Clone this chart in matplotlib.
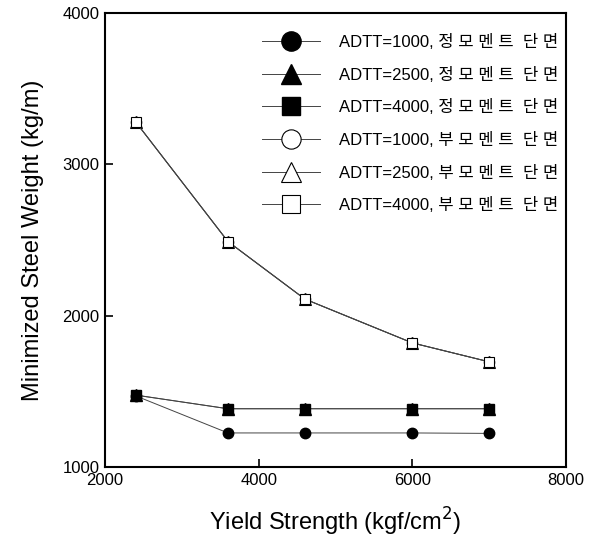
import matplotlib
matplotlib.use('Agg')
import matplotlib.pyplot as plt

plt.rcParams['font.family'] = ['Liberation Sans', 'Noto Sans CJK KR', 'DejaVu Sans']

# yield strength (kgf/cm^2)
yield_strength = [2400, 3600, 4600, 6000, 7000]

# positive moment sections
pos_1000 = [1470, 1225, 1225, 1225, 1222]
pos_2500 = [1475, 1385, 1385, 1385, 1385]
pos_4000 = [1475, 1385, 1385, 1385, 1385]

# negative moment sections
neg_1000 = [3280, 2490, 2110, 1820, 1695]
neg_2500 = [3280, 2490, 2110, 1820, 1695]
neg_4000 = [3280, 2490, 2110, 1820, 1695]

labels = ['ADTT=1000, 정 모 멘 트  단 면',
          'ADTT=2500, 정 모 멘 트  단 면',
          'ADTT=4000, 정 모 멘 트  단 면',
          'ADTT=1000, 부 모 멘 트  단 면',
          'ADTT=2500, 부 모 멘 트  단 면',
          'ADTT=4000, 부 모 멘 트  단 면']

fig = plt.figure(figsize=(6.01, 5.40), dpi=100)
ax = fig.add_axes([0.1747, 0.1352, 0.7671, 0.8407])

line_kw = dict(color='#444444', lw=0.7)
ax.plot(yield_strength, pos_1000, marker='o', ms=7.5, mfc='black', mec='black', label=labels[0], **line_kw)
ax.plot(yield_strength, pos_2500, marker='^', ms=8, mfc='black', mec='black', label=labels[1], **line_kw)
ax.plot(yield_strength, pos_4000, marker='s', ms=7, mfc='black', mec='black', label=labels[2], **line_kw)
ax.plot(yield_strength, neg_1000, marker='o', ms=7.5, mfc='white', mec='black', mew=0.8, label=labels[3], **line_kw)
ax.plot(yield_strength, neg_2500, marker='^', ms=8, mfc='white', mec='black', mew=0.8, label=labels[4], **line_kw)
ax.plot(yield_strength, neg_4000, marker='s', ms=7, mfc='white', mec='black', mew=0.8, label=labels[5], **line_kw)

ax.set_xlim(2000, 8000)
ax.set_ylim(1000, 4000)
ax.set_xticks([2000, 4000, 6000, 8000])
ax.set_yticks([1000, 2000, 3000, 4000])
ax.tick_params(direction='in', length=6, width=1.2, labelsize=12, pad=4)
for s in ax.spines.values():
    s.set_linewidth(1.5)

ax.set_xlabel('Yield Strength (kgf/cm$^2$)', fontsize=17, labelpad=13)
ax.set_ylabel('Minimized Steel Weight (kg/m)', fontsize=17, labelpad=13)

leg = ax.legend(loc='upper left', bbox_to_anchor=(0.3406, 0.954), frameon=False,
                fontsize=12, markerscale=1.85, handlelength=3.5, handletextpad=1.1,
                labelspacing=1.0, borderpad=0, borderaxespad=0)

fig.savefig('out.png', dpi=100)
